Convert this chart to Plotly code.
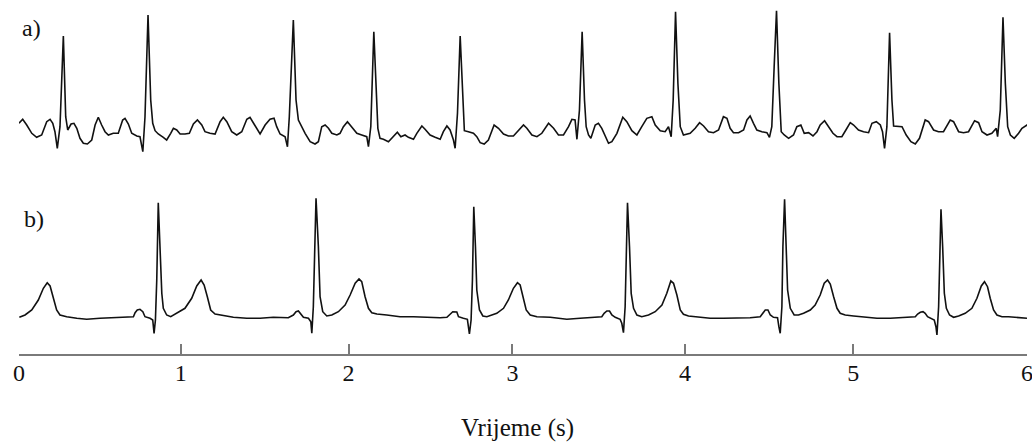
import plotly.graph_objects as go

# ---------------- data ----------------
# a) irregular rhythm: time in seconds, amplitude in mV (relative to its own baseline)
ecg_a_time = [
    0.000, 0.022, 0.046, 0.076, 0.105, 0.135, 0.165, 0.185, 0.201, 0.214,
    0.228, 0.244, 0.264, 0.278, 0.290, 0.310, 0.327, 0.344, 0.363, 0.383,
    0.407, 0.433, 0.453, 0.472, 0.492, 0.512, 0.532, 0.561, 0.591, 0.617,
    0.631, 0.651, 0.671, 0.701, 0.720, 0.737, 0.750, 0.768, 0.784, 0.796,
    0.810, 0.829, 0.859, 0.879, 0.903, 0.919, 0.939, 0.959, 0.988, 1.014,
    1.038, 1.062, 1.088, 1.107, 1.137, 1.167, 1.197, 1.216, 1.237, 1.266,
    1.296, 1.326, 1.356, 1.375, 1.399, 1.435, 1.465, 1.494, 1.518, 1.534,
    1.554, 1.584, 1.598, 1.609, 1.633, 1.649, 1.663, 1.683, 1.703, 1.733,
    1.762, 1.782, 1.802, 1.822, 1.842, 1.862, 1.892, 1.911,
    1.931, 1.955, 1.981, 2.011, 2.040, 2.070, 2.080, 2.094, 2.112, 2.126,
    2.136, 2.149, 2.169, 2.199, 2.229, 2.252, 2.273, 2.298, 2.318, 2.348,
    2.368, 2.398, 2.417, 2.447, 2.477, 2.507, 2.526, 2.547, 2.566, 2.586,
    2.596, 2.610, 2.626, 2.640, 2.651, 2.675, 2.705, 2.725, 2.745, 2.769,
    2.794, 2.828, 2.854, 2.884, 2.913, 2.943, 2.973, 3.003, 3.023, 3.053,
    3.083, 3.112, 3.152, 3.182, 3.211, 3.241, 3.271, 3.291, 3.310, 3.321,
    3.336, 3.352, 3.366, 3.376, 3.390, 3.404, 3.430, 3.449, 3.469, 3.489,
    3.509, 3.529, 3.559, 3.594, 3.618, 3.648, 3.678, 3.707, 3.737, 3.767,
    3.787, 3.817, 3.846, 3.866, 3.882, 3.894, 3.908, 3.922, 3.936, 3.955, 3.985,
    3.995, 4.025, 4.051, 4.075, 4.104, 4.134, 4.164, 4.193, 4.214, 4.233,
    4.253, 4.283, 4.313, 4.333, 4.352, 4.372, 4.392, 4.422, 4.452, 4.467,
    4.481, 4.495, 4.509, 4.523, 4.537, 4.555, 4.581, 4.610, 4.630, 4.654,
    4.674, 4.700, 4.726, 4.750, 4.769, 4.795, 4.819, 4.845, 4.869, 4.898,
    4.922, 4.948, 4.968, 4.997, 5.027, 5.057, 5.077, 5.103, 5.127, 5.140,
    5.152, 5.166, 5.182, 5.196, 5.206, 5.230, 5.256, 5.281, 5.309, 5.335,
    5.360, 5.394, 5.414, 5.444, 5.473, 5.503, 5.543, 5.563, 5.593, 5.622,
    5.652, 5.688, 5.712, 5.732, 5.762, 5.791, 5.817, 5.825, 5.841, 5.857,
    5.871, 5.885, 5.901, 5.924, 5.950, 5.970, 6.000, 6.010,
]
ecg_a_mv = [
    0.017, 0.057, 0.0, -0.083, -0.123, -0.10, 0.033, 0.057, 0.017, -0.067,
    -0.233, -0.017, 0.89, 0.083, -0.05, 0.01, 0.017, -0.033, -0.133, -0.183,
    -0.19, -0.15, 0.0, 0.077, 0.0, -0.067, -0.10, -0.083, -0.083, 0.05,
    0.067, 0.01, -0.083, -0.11, -0.117, -0.267, 0.083, 1.10, 0.25, 0.017,
    -0.057, -0.09, -0.123, -0.15, -0.083, -0.033, -0.05, -0.09, -0.09, -0.083,
    0.01, 0.05, 0.0, -0.067, -0.083, -0.09, 0.033, 0.077, 0.033, -0.067,
    -0.10, -0.067, 0.057, 0.077, 0.01, -0.09, 0.0, 0.057, 0.067, -0.017,
    -0.09, -0.117, -0.217, 0.083, 1.05, 0.25, 0.05, -0.017, -0.083, -0.167,
    -0.19, -0.167, -0.017, 0.0, -0.033, -0.083, -0.10, -0.083,
    -0.017, 0.033, -0.017, -0.083, -0.10, -0.117, -0.217, -0.017, 0.933, 0.25,
    -0.033, -0.133, -0.143, -0.167, -0.11, -0.073, -0.117, -0.10, -0.123, -0.143,
    -0.083, -0.01, -0.043, -0.10, -0.123, -0.143, -0.067, -0.01, -0.05, -0.15,
    -0.233, 0.117, 0.89, 0.25, -0.057, -0.067, -0.083, -0.117, -0.177, -0.19,
    -0.15, 0.0, -0.033, -0.09, -0.11, -0.11, -0.05, 0.0, -0.033, -0.10,
    -0.117, -0.083, 0.017, -0.033, -0.10, -0.10, -0.017, 0.057, 0.05, -0.143,
    0.15, 0.933, 0.25, -0.017, -0.10, -0.133, 0.0, 0.017, -0.033, -0.117,
    -0.183, -0.167, -0.083, 0.077, 0.033, -0.057, -0.10, -0.017, 0.067, 0.083,
    0.0, -0.057, -0.067, -0.017, -0.117, 0.25, 1.133, 0.417, -0.017, -0.10, -0.083,
    -0.083, -0.033, 0.023, -0.01, -0.067, -0.077, -0.05, 0.083, 0.067, -0.033,
    -0.077, -0.077, -0.05, 0.05, 0.09, 0.017, -0.05, -0.067, -0.077, -0.123,
    -0.017, 0.583, 1.143, 0.417, -0.067, -0.10, -0.133, -0.10, -0.017, 0.0,
    -0.083, -0.077, -0.11, -0.067, 0.0, 0.043, -0.017, -0.083, -0.117, -0.117,
    -0.05, 0.023, 0.0, -0.05, -0.067, -0.077, 0.017, 0.033, 0.0, -0.067,
    -0.233, -0.017, 0.923, 0.25, -0.01, -0.01, -0.017, -0.10, -0.167, -0.19,
    -0.133, 0.05, 0.033, -0.05, -0.067, -0.067, 0.05, 0.033, -0.067, -0.077,
    -0.067, 0.043, 0.023, -0.067, -0.10, -0.083, -0.033, -0.117, 0.15, 1.077,
    0.417, -0.017, -0.10, -0.133, -0.083, -0.033, 0.0, -0.017,
]

# b) regular sinus rhythm: time in seconds, amplitude in mV
ecg_b_time = [
    0.002, 0.036, 0.076, 0.115, 0.145, 0.168, 0.185, 0.204, 0.224, 0.244,
    0.284, 0.344, 0.403, 0.482, 0.561, 0.641, 0.681, 0.691, 0.704, 0.720,
    0.737, 0.750, 0.780, 0.796, 0.804, 0.812, 0.820, 0.829, 0.840, 0.850,
    0.859, 0.879, 0.903, 0.939, 0.988, 1.028, 1.058, 1.084, 1.102, 1.121,
    1.141, 1.167, 1.197, 1.276, 1.356, 1.435, 1.514, 1.603, 1.633, 1.649,
    1.663, 1.677, 1.693, 1.723, 1.737, 1.743, 1.752, 1.768, 1.782, 1.792,
    1.808, 1.832, 1.862, 1.901,
    1.911, 1.941, 1.971, 2.001, 2.024, 2.040, 2.060, 2.080, 2.100, 2.130,
    2.189, 2.268, 2.348, 2.427, 2.507, 2.547, 2.566, 2.582, 2.606, 2.616,
    2.645, 2.669, 2.681, 2.691, 2.699, 2.707, 2.717, 2.725, 2.741, 2.761,
    2.785, 2.814, 2.844, 2.884, 2.913, 2.943, 2.967, 2.983, 2.999, 3.019,
    3.043, 3.083, 3.162, 3.261, 3.340, 3.419, 3.469, 3.483, 3.499, 3.515,
    3.529, 3.549, 3.578, 3.588, 3.598, 3.608, 3.622, 3.634, 3.644, 3.658,
    3.678, 3.707, 3.747, 3.787, 3.827, 3.856, 3.880, 3.896, 3.916,
    3.936, 3.955, 3.985, 4.035, 4.114, 4.193, 4.273, 4.352, 4.412, 4.428,
    4.442, 4.458, 4.472, 4.491, 4.515, 4.523, 4.531, 4.541, 4.547, 4.557,
    4.567, 4.575, 4.591, 4.614, 4.640, 4.670, 4.710, 4.739, 4.769, 4.793,
    4.813, 4.829, 4.849, 4.869, 4.888, 4.918, 4.968, 5.027, 5.107, 5.186,
    5.265, 5.335, 5.349, 5.365, 5.381, 5.394, 5.408, 5.428, 5.448, 5.458,
    5.464, 5.474, 5.480, 5.488, 5.498, 5.508, 5.520, 5.539, 5.563, 5.593,
    5.632, 5.672, 5.702, 5.728, 5.747, 5.765, 5.781, 5.801, 5.821, 5.851,
    5.890, 5.940, 6.000,
]
ecg_b_mv = [
    0.007, 0.03, 0.08, 0.18, 0.297, 0.353, 0.32, 0.213, 0.08, 0.03,
    0.013, -0.003, -0.013, -0.003, 0.003, 0.003, 0.013, 0.053, 0.08, 0.087,
    0.063, 0.013, -0.003, -0.02, -0.153, -0.02, 0.38, 1.153, 0.713, 0.247,
    0.097, 0.03, 0.013, 0.047, 0.097, 0.197, 0.32, 0.38, 0.33, 0.213,
    0.08, 0.04, 0.03, 0.007, -0.003, -0.003, 0.007, 0.003, 0.03, 0.063,
    0.07, 0.04, 0.007, -0.003, -0.037, -0.153, 0.113, 1.197, 0.713, 0.213,
    0.063, 0.02, 0.03, 0.063,
    0.08, 0.13, 0.23, 0.347, 0.39, 0.363, 0.213, 0.097, 0.053, 0.04,
    0.03, 0.013, 0.013, 0.007, 0.003, 0.007, 0.04, 0.063, 0.06, 0.013,
    -0.003, -0.013, -0.16, -0.02, 0.38, 1.113, 0.713, 0.28, 0.08, 0.02,
    0.013, 0.03, 0.047, 0.097, 0.18, 0.297, 0.353, 0.33, 0.213, 0.08,
    0.03, 0.013, 0.007, -0.013, -0.003, 0.007, 0.013, 0.047, 0.07, 0.07,
    0.03, 0.007, -0.013, -0.053, -0.147, 0.113, 1.153, 0.713, 0.247, 0.097,
    0.03, 0.013, 0.03, 0.063, 0.13, 0.247, 0.37, 0.347, 0.23,
    0.08, 0.037, 0.02, 0.013, -0.003, -0.003, -0.003, 0.003, 0.013, 0.053,
    0.08, 0.08, 0.03, 0.007, 0.003, -0.087, -0.153, 0.113, 0.713, 1.187,
    0.713, 0.28, 0.097, 0.03, 0.03, 0.047, 0.08, 0.13, 0.23, 0.347,
    0.38, 0.34, 0.213, 0.097, 0.047, 0.03, 0.02, 0.013, -0.003, -0.003,
    0.003, 0.013, 0.04, 0.057, 0.063, 0.047, 0.013, -0.003, -0.02, -0.087,
    -0.17, 0.113, 0.713, 1.087, 0.713, 0.247, 0.097, 0.03, 0.007, 0.02,
    0.047, 0.097, 0.197, 0.32, 0.363, 0.313, 0.197, 0.08, 0.03, 0.013,
    0.013, 0.007, -0.003,
]

tick_values = [0, 0.963, 1.962, 2.937, 3.964, 4.966, 6.0]
tick_labels = ["0", "1", "2", "3", "4", "5", "6"]
panel_labels = ["a)", "b)"]
axis_title = "Vrijeme (s)"

# ---------------- figure ----------------
offset_a = 1.93  # vertical stacking offset for trace a

fig = go.Figure()
fig.add_trace(go.Scatter(
    x=ecg_a_time, y=[v + offset_a for v in ecg_a_mv], mode="lines",
    line=dict(color="#111111", width=1.6), showlegend=False, hoverinfo="skip"))
fig.add_trace(go.Scatter(
    x=ecg_b_time, y=ecg_b_mv, mode="lines",
    line=dict(color="#111111", width=1.6), showlegend=False, hoverinfo="skip"))

serif = "Liberation Serif, Times New Roman, serif"

fig.update_layout(
    width=1032, height=445,
    margin=dict(l=19, r=5, t=0, b=91),
    paper_bgcolor="white", plot_bgcolor="white",
    font=dict(family=serif, color="#111111"),
    xaxis=dict(
        range=[0, 6.0], showgrid=False, zeroline=False,
        showline=True, linecolor="#7a7a7a", linewidth=2,
        ticks="inside", ticklen=10, tickwidth=1.5, tickcolor="#7a7a7a",
        tickvals=tick_values, ticktext=tick_labels,
        tickfont=dict(family=serif, size=24, color="#111111"),
        ticklabelstandoff=-4, ticklabeloverflow="allow",
        automargin=False,
    ),
    yaxis=dict(range=[-0.36, 3.18], visible=False, fixedrange=True),
)

fig.add_annotation(text=axis_title, xref="paper", yref="paper",
                   x=0.4945, y=-0.21, xanchor="center", yanchor="middle",
                   showarrow=False, font=dict(family=serif, size=25, color="#111111"))
fig.add_annotation(text=panel_labels[0], xref="paper", yref="paper",
                   x=0.012, y=0.921, xanchor="center", yanchor="middle",
                   showarrow=False, font=dict(family=serif, size=24, color="#111111"))
fig.add_annotation(text=panel_labels[1], xref="paper", yref="paper",
                   x=0.015, y=0.381, xanchor="center", yanchor="middle",
                   showarrow=False, font=dict(family=serif, size=24, color="#111111"))

fig.write_html("out.html", config={"displayModeBar": False},
               post_script="document.body.style.margin='0';document.body.style.overflow='hidden';")
